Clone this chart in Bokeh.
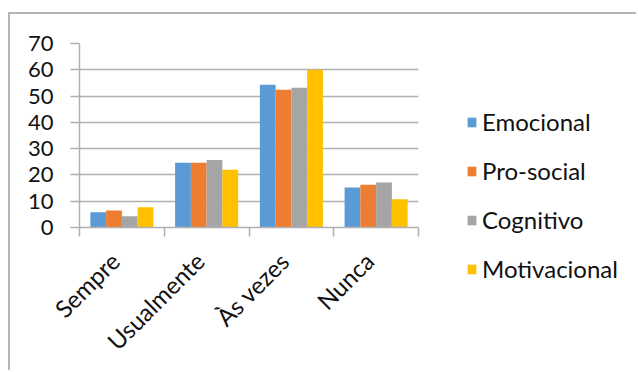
import numpy as np
from bokeh.plotting import figure
from bokeh.layouts import row, column
from bokeh.models import (ColumnDataSource, Range1d, FixedTicker, Legend, LegendItem)
from bokeh.transform import dodge
from bokeh.embed import file_html
from bokeh.resources import INLINE

categories = ["Sempre", "Usualmente", "Às vezes", "Nunca"]
series_names = ["Emocional", "Pro-social", "Cognitivo", "Motivacional"]
emocional = [5.8, 24.6, 54.3, 15.2]
pro_social = [6.5, 24.6, 52.4, 16.3]
cognitivo = [4.3, 25.7, 53.2, 17.1]
motivacional = [7.7, 22.0, 60.0, 10.7]
y_ticks = [0, 10, 20, 30, 40, 50, 60, 70]

colors = ["#5B9BD5", "#ED7D31", "#A5A5A5", "#FFC000"]
FONT = "Lato"
FS = "24px"
FS_Y = "22px"
TXT = "#111111"
GRID = "#b0b0b0"

xpos = [i + 0.5 for i in range(len(categories))]
source = ColumnDataSource(dict(x=xpos, e=emocional, p=pro_social, c=cognitivo, m=motivacional))

p = figure(width=420, height=358, output_backend="svg", toolbar_location=None,
           x_range=Range1d(0, len(categories)), y_range=Range1d(0, 70),
           min_border_left=69, min_border_right=12, min_border_top=29, min_border_bottom=143)
p.outline_line_color = None
p.background_fill_color = "white"
p.border_fill_color = "white"

bw = 0.186
offsets = [-1.5 * bw, -0.5 * bw, 0.5 * bw, 1.5 * bw]
for key, off, col in zip(["e", "p", "c", "m"], offsets, colors):
    p.vbar(x=dodge("x", off, range=p.x_range), top=key, width=bw, bottom=0,
           source=source, fill_color=col, line_color=None)

# y axis
p.yaxis.ticker = FixedTicker(ticks=y_ticks)
p.yaxis.axis_line_color = GRID
p.yaxis.axis_line_width = 1.5
p.yaxis.major_tick_line_color = GRID
p.yaxis.major_tick_line_width = 1.5
p.yaxis.major_tick_out = 9
p.yaxis.major_tick_in = 0
p.yaxis.minor_tick_line_color = None
p.yaxis.major_label_text_font = FONT
p.yaxis.major_label_text_font_size = FS_Y
p.yaxis.major_label_text_color = TXT
p.yaxis.major_label_standoff = 17

# x axis: rotated labels anchored slightly left of each category centre
label_shift = 0.08
label_ticks = [x - label_shift for x in xpos]
p.xaxis.ticker = FixedTicker(ticks=label_ticks, minor_ticks=list(range(len(categories) + 1)))
p.xaxis.major_label_overrides = {x: c for x, c in zip(label_ticks, categories)}
p.xaxis.axis_line_color = GRID
p.xaxis.axis_line_width = 1.5
p.xaxis.major_tick_line_color = None
p.xaxis.minor_tick_line_color = GRID
p.xaxis.minor_tick_line_width = 1.5
p.xaxis.minor_tick_out = 9
p.xaxis.minor_tick_in = 0
p.xaxis.major_label_orientation = np.pi / 4
p.xaxis.major_label_text_font = FONT
p.xaxis.major_label_text_font_size = FS
p.xaxis.major_label_text_color = TXT
p.xaxis.major_label_standoff = 20

p.xgrid.grid_line_color = None
p.ygrid.ticker = FixedTicker(ticks=y_ticks)
p.ygrid.grid_line_color = GRID
p.ygrid.grid_line_width = 1.5

# legend panel
p2 = figure(width=208, height=358, output_backend="svg", toolbar_location=None,
            x_range=Range1d(0, 1), y_range=Range1d(0, 1), min_border=0)
if "frame_align" in p2.properties():
    p2.frame_align = False
p2.axis.visible = False
p2.grid.visible = False
p2.outline_line_color = None
p2.background_fill_color = "white"
p2.border_fill_color = "white"
items = []
for name, col in zip(series_names, colors):
    r = p2.vbar(x=[-5], top=[-5], bottom=[-6], width=0.1, fill_color=col, line_color=None)
    items.append(LegendItem(label=name, renderers=[r]))
legend = Legend(items=items, location=(36, 89))
legend.label_text_font = FONT
legend.label_text_font_size = FS
legend.label_text_color = TXT
legend.glyph_width = 11
legend.glyph_height = 12
legend.label_standoff = 5
legend.spacing = 20
legend.padding = 0
legend.margin = 0
legend.border_line_color = None
legend.background_fill_alpha = 0
p2.add_layout(legend, "center")

layout = row(p, column(p2), width=628, height=358,
             styles={"margin-left": "8px", "margin-top": "12px", "background-color": "white",
                     "border-left": "2px solid #b4b4b4", "border-top": "2px solid #b4b4b4"})

open("out.html", "w").write(file_html(layout, INLINE))
